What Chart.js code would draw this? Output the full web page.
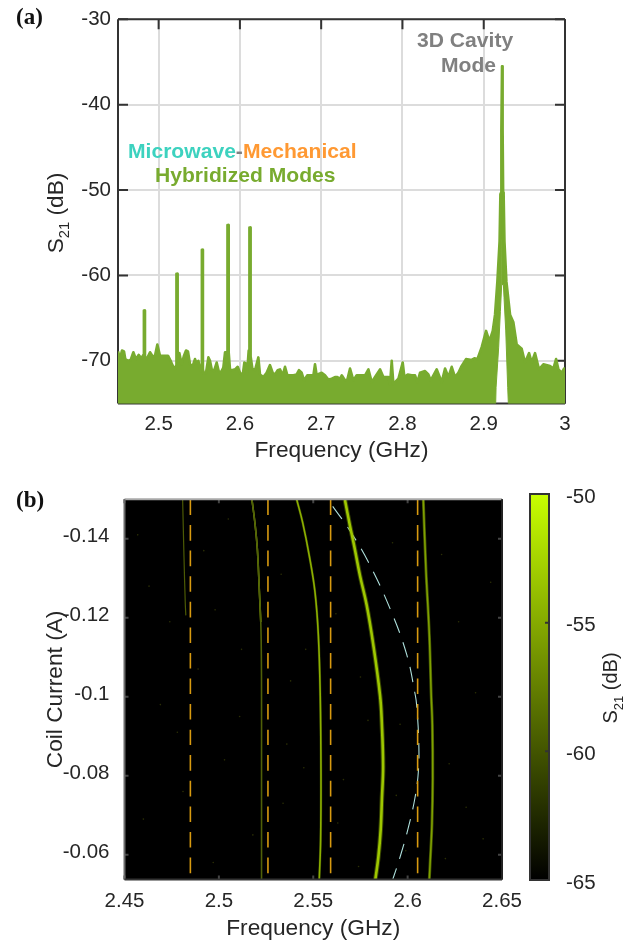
<!DOCTYPE html>
<html>
<head>
<meta charset="utf-8">
<title>S21 spectra</title>
<script src="https://cdn.jsdelivr.net/npm/chart.js@4"></script>
<style>
  html, body { margin: 0; padding: 0; background: #fff; }
  canvas { position: absolute; display: block; }
</style>
</head>
<body>
<canvas id="traceChart" width="639" height="480" style="left:0;top:0"></canvas>
<canvas id="mapChart" width="639" height="464" style="left:0;top:480px"></canvas>
<canvas id="barChart" width="119" height="464" style="left:520px;top:480px"></canvas>
<script>
// Panel (a): top and bottom edge of the measured trace
const traceFreq = [
  2.45, 2.4525, 2.4549, 2.4574, 2.459, 2.4623, 2.4656, 2.4689, 2.4721, 2.4754, 2.4787, 2.4812, 2.4818,
  2.4819, 2.4831, 2.4832, 2.4853, 2.4894, 2.4927, 2.4955, 2.4984, 2.5017, 2.5058, 2.5115, 2.5148, 2.5164, 2.5201, 2.5218,
  2.5219, 2.5233, 2.5234, 2.5255, 2.5283, 2.5312, 2.5337, 2.5361, 2.5386, 2.5419, 2.5447, 2.5468, 2.5489, 2.5517, 2.5531,
  2.5532, 2.5544, 2.5545, 2.5558, 2.5583, 2.5612, 2.5632, 2.5653, 2.5681, 2.5714, 2.5739, 2.5763, 2.5796, 2.5817, 2.5837, 2.5846,
  2.5847, 2.5861, 2.5862, 2.5878, 2.5903, 2.594, 2.5973, 2.6001, 2.6034, 2.6055, 2.6071, 2.6087, 2.6108, 2.6116,
  2.6117, 2.6131, 2.6132, 2.6153, 2.6186, 2.6227, 2.6247, 2.6288, 2.6329, 2.637, 2.6403, 2.6432, 2.6465, 2.6493, 2.6526, 2.6555,
  2.6584, 2.6625, 2.6658, 2.6699, 2.6727, 2.676, 2.6789, 2.683, 2.6871, 2.6904, 2.6924, 2.6945, 2.6977, 2.7006, 2.7047, 2.7088,
  2.713, 2.717, 2.7199, 2.7232, 2.7253, 2.7294, 2.7322, 2.7355, 2.7396, 2.7437, 2.7478, 2.754, 2.7581, 2.7622, 2.7663, 2.7724,
  2.7765, 2.7827, 2.7847, 2.7868, 2.7888, 2.795, 2.8003, 2.8024, 2.8065, 2.8114, 2.8155, 2.8184, 2.8216, 2.8278, 2.8319, 2.8348,
  2.8421, 2.8483, 2.8524, 2.8565, 2.8606, 2.8647, 2.8688, 2.8729, 2.8782, 2.8852, 2.8885, 2.8922, 2.8975, 2.9029, 2.907, 2.9111,
  2.9139, 2.9168, 2.9195, 2.9205, 2.9213, 2.9217, 2.9225, 2.9229, 2.9236, 2.9239, 2.9245, 2.9255, 2.9279, 2.9324, 2.9365, 2.9406,
  2.9467, 2.9508, 2.9558, 2.959, 2.9631, 2.968, 2.9734, 2.9816, 2.9857, 2.989, 2.9919, 2.996, 2.9988, 3.0
];
const traceTop = [
  -68.9, -69.7, -68.8, -68.9, -69.8, -70, -69.9, -69, -69.8, -69.3, -69.7, -69.3, -69.5,
  -64.1, -64.1, -69.5, -69.8, -69, -69.5, -69.4, -68.1, -69.4, -69.4, -69.4, -70, -70.4, -71, -70.5,
  -59.8, -59.8, -69.5, -69.1, -70.4, -69.4, -68.8, -68.9, -70.4, -70.6, -69.8, -70.3, -70, -71.2, -71,
  -57, -57, -71, -71.5, -71.4, -69.6, -70, -71, -71.2, -70.2, -71.2, -71.4, -70.8, -69, -69, -69,
  -54.1, -54.1, -69, -71, -71.1, -71, -70.7, -71.4, -71.7, -70.2, -70.3, -71.6, -68.8, -68.8,
  -54.4, -54.4, -69.5, -70.9, -71.1, -69.6, -71.6, -71.9, -71.4, -70.5, -71.4, -71.6, -71.1, -71, -71.7, -70.7,
  -71.7, -71.7, -71.7, -71.6, -71.1, -71.4, -72.3, -71.7, -71.7, -71.7, -70.4, -71.7, -71.5, -71.4, -71.7, -72.2,
  -72.1, -71.9, -71.9, -72.1, -71.7, -72.3, -72.2, -70.9, -72.3, -71.7, -71.7, -71.7, -71, -72.5, -71.9, -71,
  -71.9, -71.9, -72.8, -70, -72.7, -72.1, -70.2, -71.9, -71.6, -71.7, -71.7, -72.5, -71.4, -71.2, -71.6, -72.3,
  -71, -72.5, -70.9, -71.9, -70.7, -71.9, -71.4, -70.6, -69.8, -69.9, -69.7, -69.8, -68.4, -66.5, -67.7, -66.5,
  -64.6, -60.7, -56, -50.5, -50.3, -43, -35.5, -35.5, -43, -50.3, -50.5, -56, -60.7, -64.6, -65.5, -68.1,
  -68.6, -70.2, -69.1, -70.2, -69.1, -71, -70.4, -70.6, -70.9, -69.8, -71, -71.4, -70.9, -71
];
const floorFreq = [2.45, 2.9147, 2.9152, 2.9184, 2.9205, 2.9221, 2.9227, 2.9232, 2.9242, 2.925, 2.9271, 2.9295, 2.9303, 3.0];
const floorLevel = [-75, -75, -73.1, -68.4, -64.2, -61.1, -52, -61.1, -61.1, -62.6, -66.5, -73.1, -75, -75];
const traceFreqTicks = [2.5, 2.6, 2.7, 2.8, 2.9, 3];
const traceFreqLabels = ['2.5', '2.6', '2.7', '2.8', '2.9', '3'];
const traceDbTicks = [-30, -40, -50, -60, -70];

// Panel (b): mode curves
const modeAFreq = [2.4808, 2.4815, 2.4822, 2.4825];
const modeACurrent = [-0.15, -0.1357, -0.1236, -0.1206];
const modeBFreq = [2.5175, 2.5191, 2.5204, 2.5214, 2.5222, 2.5225, 2.5226, 2.5226, 2.5226];
const modeBCurrent = [-0.15, -0.144, -0.1373, -0.1273, -0.1189, -0.1106, -0.1, -0.0836, -0.0538];
const modeCFreq = [2.5412, 2.5444, 2.5479, 2.5509, 2.5527, 2.5537, 2.5541, 2.5539, 2.5532];
const modeCCurrent = [-0.15, -0.1441, -0.1357, -0.1266, -0.1156, -0.1003, -0.0803, -0.0636, -0.0539];
const modeDFreq = [2.5668, 2.5695, 2.5717, 2.5748, 2.5783, 2.5818, 2.5854, 2.5863, 2.587, 2.5864, 2.5857, 2.5845, 2.5829];
const modeDCurrent = [-0.1498, -0.1432, -0.1382, -0.1306, -0.1232, -0.1132, -0.1003, -0.0936, -0.0823, -0.0744, -0.0661, -0.0594, -0.0537];
const modeEFreq = [2.6083, 2.6097, 2.6115, 2.6125, 2.6131, 2.6133, 2.6129, 2.612, 2.6115];
const modeECurrent = [-0.15, -0.1323, -0.1157, -0.1003, -0.0928, -0.0794, -0.0679, -0.0586, -0.0538];
const cavityFreq = [2.5603, 2.5691, 2.5792, 2.5907, 2.5995, 2.6041, 2.6048, 2.6059, 2.6057, 2.6039, 2.6004, 2.596, 2.5921];
const cavityCurrent = [-0.1482, -0.1423, -0.1341, -0.1223, -0.1107, -0.1003, -0.0978, -0.0886, -0.0811, -0.0744, -0.0669, -0.0594, -0.0537];
const mechanicalFreq = [2.4849, 2.526, 2.5592, 2.6053];
const specklesFreq = [2.457, 2.463, 2.474, 2.492, 2.498, 2.505, 2.512, 2.533, 2.538, 2.469, 2.478, 2.489, 2.503, 2.511, 2.536, 2.546, 2.562, 2.575, 2.592, 2.596, 2.618, 2.627, 2.636, 2.644, 2.622, 2.631, 2.64, 2.566, 2.579, 2.599, 2.46, 2.481, 2.497, 2.518, 2.534, 2.545, 2.563, 2.574, 2.594, 2.62];
const specklesCurrent = [-0.141, -0.128, -0.119, -0.137, -0.122, -0.145, -0.112, -0.131, -0.104, -0.098, -0.091, -0.107, -0.084, -0.095, -0.088, -0.112, -0.121, -0.105, -0.139, -0.093, -0.136, -0.119, -0.101, -0.129, -0.083, -0.072, -0.064, -0.079, -0.094, -0.061, -0.069, -0.076, -0.058, -0.065, -0.073, -0.082, -0.068, -0.057, -0.075, -0.059];
const mapFreqTicks = [2.45, 2.5, 2.55, 2.6, 2.65];
const mapCurrentTicks = [-0.14, -0.12, -0.1, -0.08, -0.06];
const mapCurrentLabels = ['-0.14', '-0.12', '-0.1', '-0.08', '-0.06'];
const colourTicks = [-50, -55, -60, -65];

const TEXT = '#262626';
const SANS = '"Liberation Sans", Arial, sans-serif';
const TICK_FONT = { family: SANS, size: 20.5 };
const TITLE_FONT = { family: SANS, size: 22.7 };

function toPoints(xs, ys) {
    return xs.map((x, i) => ({ x: x, y: ys[i] }));
}

// fixed tick positions, the library would add the axis ends otherwise
function fixedTicks(values) {
    return function(scale) {
        scale.ticks = values.map(v => ({ value: v }));
    };
}

// S21 with a real subscript, rotated along the axis
function drawS21(ctx, x, y, size) {
    ctx.save();
    ctx.translate(x, y);
    ctx.rotate(-Math.PI / 2);
    ctx.fillStyle = TEXT;
    ctx.textAlign = 'left';
    ctx.textBaseline = 'alphabetic';
    const big = size + 'px ' + SANS;
    const small = (size * 0.65) + 'px ' + SANS;
    ctx.font = big;
    const sWidth = ctx.measureText('S').width;
    const tail = ' (dB)';
    const tailWidth = ctx.measureText(tail).width;
    ctx.font = small;
    const subWidth = ctx.measureText('21').width;
    let pos = -(sWidth + subWidth + tailWidth) / 2;
    ctx.font = big;
    ctx.fillText('S', pos, 0);
    pos += sWidth;
    ctx.font = small;
    ctx.fillText('21', pos, size * 0.28);
    pos += subWidth;
    ctx.font = big;
    ctx.fillText(tail, pos, 0);
    ctx.restore();
}

function drawFrame(chart, style) {
    const { ctx, chartArea: a, scales } = chart;
    ctx.save();
    ctx.lineWidth = 2;
    ctx.strokeStyle = style.tick;
    ctx.beginPath();
    scales.x.ticks.forEach(t => {
        const px = scales.x.getPixelForValue(t.value);
        ctx.moveTo(px, a.top); ctx.lineTo(px, a.top + style.length);
        ctx.moveTo(px, a.bottom); ctx.lineTo(px, a.bottom - style.length);
    });
    scales.y.ticks.forEach(t => {
        const py = scales.y.getPixelForValue(t.value);
        ctx.moveTo(a.left, py); ctx.lineTo(a.left + style.length, py);
        ctx.moveTo(a.right, py); ctx.lineTo(a.right - style.length, py);
    });
    ctx.stroke();
    [[a.left, a.top, a.right, a.top, style.top], [a.left, a.top, a.left, a.bottom, style.left],
     [a.right, a.top, a.right, a.bottom, style.right], [a.left, a.bottom, a.right, a.bottom, style.bottom]].forEach(s => {
        ctx.strokeStyle = s[4];
        ctx.beginPath();
        ctx.moveTo(s[0], s[1]);
        ctx.lineTo(s[2], s[3]);
        ctx.stroke();
    });
    ctx.restore();
}

function panelLetter(ctx, text, y) {
    ctx.save();
    ctx.font = 'bold 23px "Liberation Serif", serif';
    ctx.fillStyle = '#111';
    ctx.textAlign = 'left';
    ctx.fillText(text, 16, y);
    ctx.restore();
}

// Panel (a)
new Chart(document.getElementById('traceChart'), {
    type: 'line',
    data: {
        datasets: [
            {
                data: toPoints(floorFreq, floorLevel),
                borderColor: '#78ab2f',
                borderWidth: 1,
                pointRadius: 0,
                tension: 0,
                fill: false
            },
            {
                data: toPoints(traceFreq, traceTop),
                borderColor: '#78ab2f',
                backgroundColor: '#78ab2f',
                borderWidth: 2.6,
                pointRadius: 0,
                tension: 0,
                borderJoinStyle: 'round',
                fill: 0
            }
        ]
    },
    options: {
        responsive: false,
        animation: false,
        layout: { padding: { left: 0, right: 74, top: 16.5, bottom: 0 } },
        plugins: { legend: { display: false }, tooltip: { enabled: false } },
        scales: {
            x: {
                type: 'linear',
                min: 2.45,
                max: 3,
                afterBuildTicks: fixedTicks(traceFreqTicks),
                afterFit: s => { s.height = 76.5; },
                grid: { color: '#dcdcdc', lineWidth: 2, drawTicks: false },
                border: { display: false },
                ticks: {
                    color: TEXT, font: TICK_FONT, padding: 9, maxRotation: 0, autoSkip: false,
                    callback: (v, i) => traceFreqLabels[i]
                },
                title: { display: true, text: 'Frequency (GHz)', color: TEXT, font: TITLE_FONT, padding: { top: 4, bottom: 15.4 } }
            },
            y: {
                min: -75,
                max: -30,
                afterBuildTicks: fixedTicks(traceDbTicks),
                afterFit: s => { s.width = 118; },
                grid: { color: '#dcdcdc', lineWidth: 2, drawTicks: false },
                border: { display: false },
                ticks: { color: TEXT, font: TICK_FONT, padding: 7, autoSkip: false, callback: v => String(v) }
            }
        }
    },
    plugins: [{
        id: 'traceExtras',
        beforeDatasetsDraw(chart) {
            drawFrame(chart, { tick: '#333', length: 10, top: '#333', left: '#333', right: '#333', bottom: '#333' });
        },
        afterDraw(chart) {
            const ctx = chart.ctx;
            drawS21(ctx, 63, 213, 22.7);
            panelLetter(ctx, '(a)', 24);
            ctx.save();
            ctx.font = 'bold 21.1px ' + SANS;
            ctx.textAlign = 'left';
            let x = 128;
            [['Microwave', '#3dd2bf'], ['-', '#808080'], ['Mechanical', '#ff9933']].forEach(part => {
                ctx.fillStyle = part[1];
                ctx.fillText(part[0], x, 158);
                x += ctx.measureText(part[0]).width;
            });
            ctx.fillStyle = '#78ab2f';
            ctx.fillText('Hybridized Modes', 155, 182);
            ctx.fillStyle = '#808080';
            ctx.fillText('3D Cavity', 417, 47);
            ctx.fillText('Mode', 441, 72);
            ctx.restore();
        }
    }]
});

// one curve of the colour map
function modeLine(xs, ys, colour, width) {
    return {
        data: toPoints(xs, ys),
        borderColor: colour,
        borderWidth: width,
        pointRadius: 0,
        tension: 0.4,
        fill: false
    };
}

function dashedLine(xs, ys, colour, width) {
    return {
        data: toPoints(xs, ys),
        borderColor: colour,
        borderWidth: width,
        borderDash: [15.6, 10],
        pointRadius: 0,
        tension: 0.4,
        fill: false
    };
}

const mapLines = [
    {
        type: 'scatter',
        data: toPoints(specklesFreq, specklesCurrent),
        backgroundColor: 'rgba(95,105,10,0.45)',
        borderWidth: 0,
        pointRadius: 0.8
    },
    modeLine(modeAFreq, modeACurrent, '#4c5a05', 1.2),
    modeLine(modeBFreq, modeBCurrent, '#4f6008', 1.6),
    modeLine(modeBFreq.slice(0, 5), modeBCurrent.slice(0, 5), '#9cbc00', 1.6),
    modeLine(modeCFreq, modeCCurrent, 'rgba(100,125,0,0.4)', 2.6),
    modeLine(modeCFreq, modeCCurrent, '#a8d200', 1.6),
    modeLine(modeDFreq, modeDCurrent, 'rgba(120,150,0,0.45)', 4.6),
    modeLine(modeDFreq, modeDCurrent, '#bdee00', 2.6),
    modeLine(modeEFreq, modeECurrent, 'rgba(110,140,0,0.6)', 3),
    modeLine(modeEFreq, modeECurrent, '#9cc200', 1.5)
];
mechanicalFreq.forEach(f => {
    mapLines.push(dashedLine([f, f], [-0.15, -0.0537], '#d89a10', 1.6));
});
mapLines.push(dashedLine(cavityFreq, cavityCurrent, '#aee0dc', 1.1));

// Panel (b)
new Chart(document.getElementById('mapChart'), {
    type: 'line',
    data: { datasets: mapLines },
    options: {
        responsive: false,
        animation: false,
        layout: { padding: { left: 0, right: 137, top: 14.3, bottom: 0 } },
        plugins: { legend: { display: false }, tooltip: { enabled: false } },
        scales: {
            x: {
                type: 'linear',
                min: 2.45,
                max: 2.65,
                afterBuildTicks: fixedTicks(mapFreqTicks),
                afterFit: s => { s.height = 64.5; },
                grid: { display: false },
                border: { display: false },
                ticks: {
                    color: TEXT, font: TICK_FONT, padding: 2, maxRotation: 0, autoSkip: false,
                    callback: v => String(v)
                },
                title: { display: true, text: 'Frequency (GHz)', color: TEXT, font: TITLE_FONT, padding: { top: 4, bottom: 1.5 } }
            },
            y: {
                reverse: true,
                min: -0.15,
                max: -0.0537,
                afterBuildTicks: fixedTicks(mapCurrentTicks),
                afterFit: s => { s.width = 124.5; },
                grid: { display: false },
                border: { display: false },
                ticks: {
                    color: TEXT, font: TICK_FONT, padding: 7, labelOffset: -2, autoSkip: false,
                    callback: (v, i) => mapCurrentLabels[i]
                },
                title: { display: true, text: 'Coil Current (A)', color: TEXT, font: TITLE_FONT, padding: { top: 42, bottom: 0 } }
            }
        }
    },
    plugins: [{
        id: 'mapExtras',
        beforeDatasetsDraw(chart) {
            const { ctx, chartArea: a } = chart;
            ctx.save();
            ctx.fillStyle = '#000';
            ctx.fillRect(a.left, a.top, a.right - a.left, a.bottom - a.top);
            ctx.restore();
        },
        afterDatasetsDraw(chart) {
            drawFrame(chart, { tick: '#444', length: 4, top: '#a8a8a8', left: '#6a6a6a', right: '#222', bottom: '#333' });
        },
        afterDraw(chart) {
            panelLetter(chart.ctx, '(b)', 27);
        }
    }]
});

// Colour bar next to panel (b)
new Chart(document.getElementById('barChart'), {
    type: 'bar',
    data: {
        labels: ['S21'],
        datasets: [{
            data: [[colourTicks[3], colourTicks[0]]],
            barPercentage: 1,
            categoryPercentage: 1,
            borderWidth: 0,
            backgroundColor(context) {
                const chart = context.chart;
                if (!chart.chartArea) return '#000';
                const g = chart.ctx.createLinearGradient(0, chart.chartArea.bottom, 0, chart.chartArea.top);
                g.addColorStop(0, '#000000');
                g.addColorStop(1, '#c8ff00');
                return g;
            }
        }]
    },
    options: {
        responsive: false,
        animation: false,
        layout: { padding: { left: 10, right: 0, top: 14, bottom: 64 } },
        plugins: { legend: { display: false }, tooltip: { enabled: false } },
        scales: {
            x: { display: false },
            y: {
                position: 'right',
                min: -65,
                max: -50,
                afterBuildTicks: fixedTicks(colourTicks),
                afterFit: s => { s.width = 90; s.paddingTop = 0; s.paddingBottom = 0; },
                grid: { display: false },
                border: { display: false },
                ticks: { color: TEXT, font: TICK_FONT, padding: 9, labelOffset: 3, autoSkip: false, callback: v => String(v) }
            }
        }
    },
    plugins: [{
        id: 'barExtras',
        afterDatasetsDraw(chart) {
            const { ctx, chartArea: a, scales } = chart;
            ctx.save();
            ctx.strokeStyle = '#333';
            ctx.lineWidth = 2;
            ctx.strokeRect(a.left, a.top, a.right - a.left, a.bottom - a.top);
            ctx.beginPath();
            colourTicks.forEach(v => {
                const py = scales.y.getPixelForValue(v);
                ctx.moveTo(a.right, py);
                ctx.lineTo(a.right - 4, py);
            });
            ctx.stroke();
            ctx.restore();
        },
        afterDraw(chart) {
            drawS21(chart.ctx, 97, 208, 20);
        }
    }]
});
</script>
</body>
</html>
